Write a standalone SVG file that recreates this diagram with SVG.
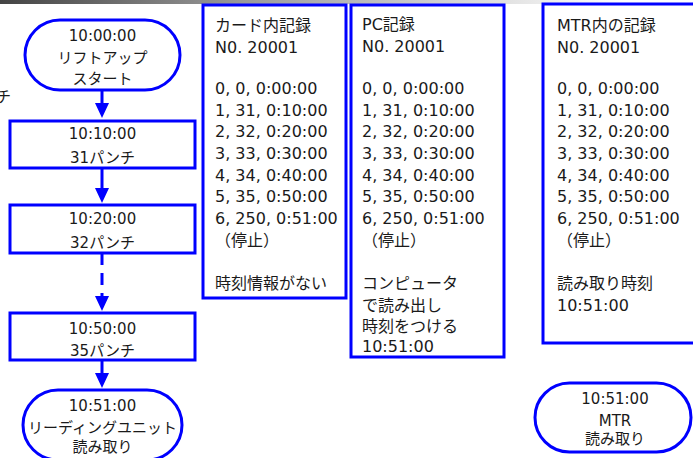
<svg xmlns="http://www.w3.org/2000/svg" width="693" height="458" viewBox="0 0 693 458">
<style>
  .box { fill: #ffffff; stroke: #0000ff; stroke-width: 3; }
  .ln { stroke: #0000ff; stroke-width: 3; fill: none; }
  .ah { fill: #0000ff; }
  .t15 { font-family: "DejaVu Sans", "Noto Sans CJK JP", sans-serif; font-size: 15px; fill: #1a1a1a; text-anchor: middle; }
  .t16 { font-family: "DejaVu Sans", "Noto Sans CJK JP", sans-serif; font-size: 16px; fill: #1a1a1a; }
</style>
<defs>
  <linearGradient id="bar" x1="0" y1="0" x2="1" y2="0">
    <stop offset="0" stop-color="#444444"/>
    <stop offset="0.35" stop-color="#9a9a9a"/>
    <stop offset="0.7" stop-color="#dddddd"/>
    <stop offset="0.9" stop-color="#ffffff"/>
  </linearGradient>
</defs>
<rect x="0" y="0" width="693" height="4" fill="url(#bar)"/>
<text class="t15" x="-4" y="102" style="text-anchor:start">チ</text>

<g id="connectors">
  <line class="ln" x1="102" y1="90" x2="102" y2="104"/>
  <path class="ah" d="M95,103 L109,103 L102,118 Z"/>
  <line class="ln" x1="102" y1="168" x2="102" y2="189"/>
  <path class="ah" d="M95,188 L109,188 L102,203 Z"/>
  <line class="ln" x1="102" y1="253" x2="102" y2="296" stroke-dasharray="12 8"/>
  <path class="ah" d="M95,296 L109,296 L102,311 Z"/>
  <line class="ln" x1="102" y1="360" x2="102" y2="374"/>
  <path class="ah" d="M95,373 L109,373 L102,388 Z"/>
</g>

<g id="start">
  <rect class="box" x="25" y="20" width="155" height="70" rx="35" ry="35"/>
  <text class="t15" x="102.5" y="40.5">10:00:00</text>
  <text class="t15" x="102.5" y="62.5">リフトアップ</text>
  <text class="t15" x="102.5" y="83.5">スタート</text>
</g>
<g id="p31">
  <rect class="box" x="10" y="121" width="185" height="47"/>
  <text class="t15" x="102.5" y="138.5">10:10:00</text>
  <text class="t15" x="102.5" y="162.5">31パンチ</text>
</g>
<g id="p32">
  <rect class="box" x="10" y="205" width="185" height="48"/>
  <text class="t15" x="102.5" y="223.5">10:20:00</text>
  <text class="t15" x="102.5" y="247.5">32パンチ</text>
</g>
<g id="p35">
  <rect class="box" x="10" y="313" width="185" height="47"/>
  <text class="t15" x="102.5" y="333.5">10:50:00</text>
  <text class="t15" x="102.5" y="355.5">35パンチ</text>
</g>
<g id="read">
  <rect class="box" x="23" y="390" width="159" height="70" rx="35" ry="35"/>
  <text class="t15" x="102.5" y="410.5">10:51:00</text>
  <text class="t15" x="102.5" y="432.5">リーディングユニット</text>
  <text class="t15" x="102.5" y="451.5">読み取り</text>
</g>

<g id="card">
  <rect class="box" x="203" y="5" width="143" height="293"/>
  <text class="t16" x="215">
    <tspan x="215" y="31">カード内記録</tspan>
    <tspan x="215" y="52.5">N0. 20001</tspan>
    <tspan x="215" y="94">0, 0, 0:00:00</tspan>
    <tspan x="215" y="115.7">1, 31, 0:10:00</tspan>
    <tspan x="215" y="137.3">2, 32, 0:20:00</tspan>
    <tspan x="215" y="159">3, 33, 0:30:00</tspan>
    <tspan x="215" y="180.7">4, 34, 0:40:00</tspan>
    <tspan x="215" y="202.3">5, 35, 0:50:00</tspan>
    <tspan x="215" y="224">6, 250, 0:51:00</tspan>
    <tspan x="215" y="245.7">（停止）</tspan>
    <tspan x="215" y="289">時刻情報がない</tspan>
  </text>
</g>

<g id="pc">
  <rect class="box" x="351" y="5" width="153" height="352"/>
  <text class="t16" x="362">
    <tspan x="362" y="30">PC記録</tspan>
    <tspan x="362" y="51.5">N0. 20001</tspan>
    <tspan x="362" y="94">0, 0, 0:00:00</tspan>
    <tspan x="362" y="115.7">1, 31, 0:10:00</tspan>
    <tspan x="362" y="137.3">2, 32, 0:20:00</tspan>
    <tspan x="362" y="159">3, 33, 0:30:00</tspan>
    <tspan x="362" y="180.7">4, 34, 0:40:00</tspan>
    <tspan x="362" y="202.3">5, 35, 0:50:00</tspan>
    <tspan x="362" y="224">6, 250, 0:51:00</tspan>
    <tspan x="362" y="245.7">（停止）</tspan>
    <tspan x="362" y="289">コンピュータ</tspan>
    <tspan x="362" y="310.5">で読み出し</tspan>
    <tspan x="362" y="332">時刻をつける</tspan>
    <tspan x="362" y="352">10:51:00</tspan>
  </text>
</g>

<g id="mtr">
  <rect class="box" x="543" y="4" width="160" height="339"/>
  <text class="t16" x="557">
    <tspan x="557" y="31">MTR内の記録</tspan>
    <tspan x="557" y="52.5">N0. 20001</tspan>
    <tspan x="557" y="94">0, 0, 0:00:00</tspan>
    <tspan x="557" y="115.7">1, 31, 0:10:00</tspan>
    <tspan x="557" y="137.3">2, 32, 0:20:00</tspan>
    <tspan x="557" y="159">3, 33, 0:30:00</tspan>
    <tspan x="557" y="180.7">4, 34, 0:40:00</tspan>
    <tspan x="557" y="202.3">5, 35, 0:50:00</tspan>
    <tspan x="557" y="224">6, 250, 0:51:00</tspan>
    <tspan x="557" y="245.7">（停止）</tspan>
    <tspan x="557" y="289">読み取り時刻</tspan>
    <tspan x="557" y="310.5">10:51:00</tspan>
  </text>
</g>

<g id="mtr-read">
  <rect class="box" x="535" y="383" width="156" height="69" rx="34.5" ry="34.5"/>
  <text class="t15" x="615" y="403.5">10:51:00</text>
  <text class="t15" x="615" y="425.5">MTR</text>
  <text class="t15" x="615" y="443.5">読み取り</text>
</g>
</svg>
